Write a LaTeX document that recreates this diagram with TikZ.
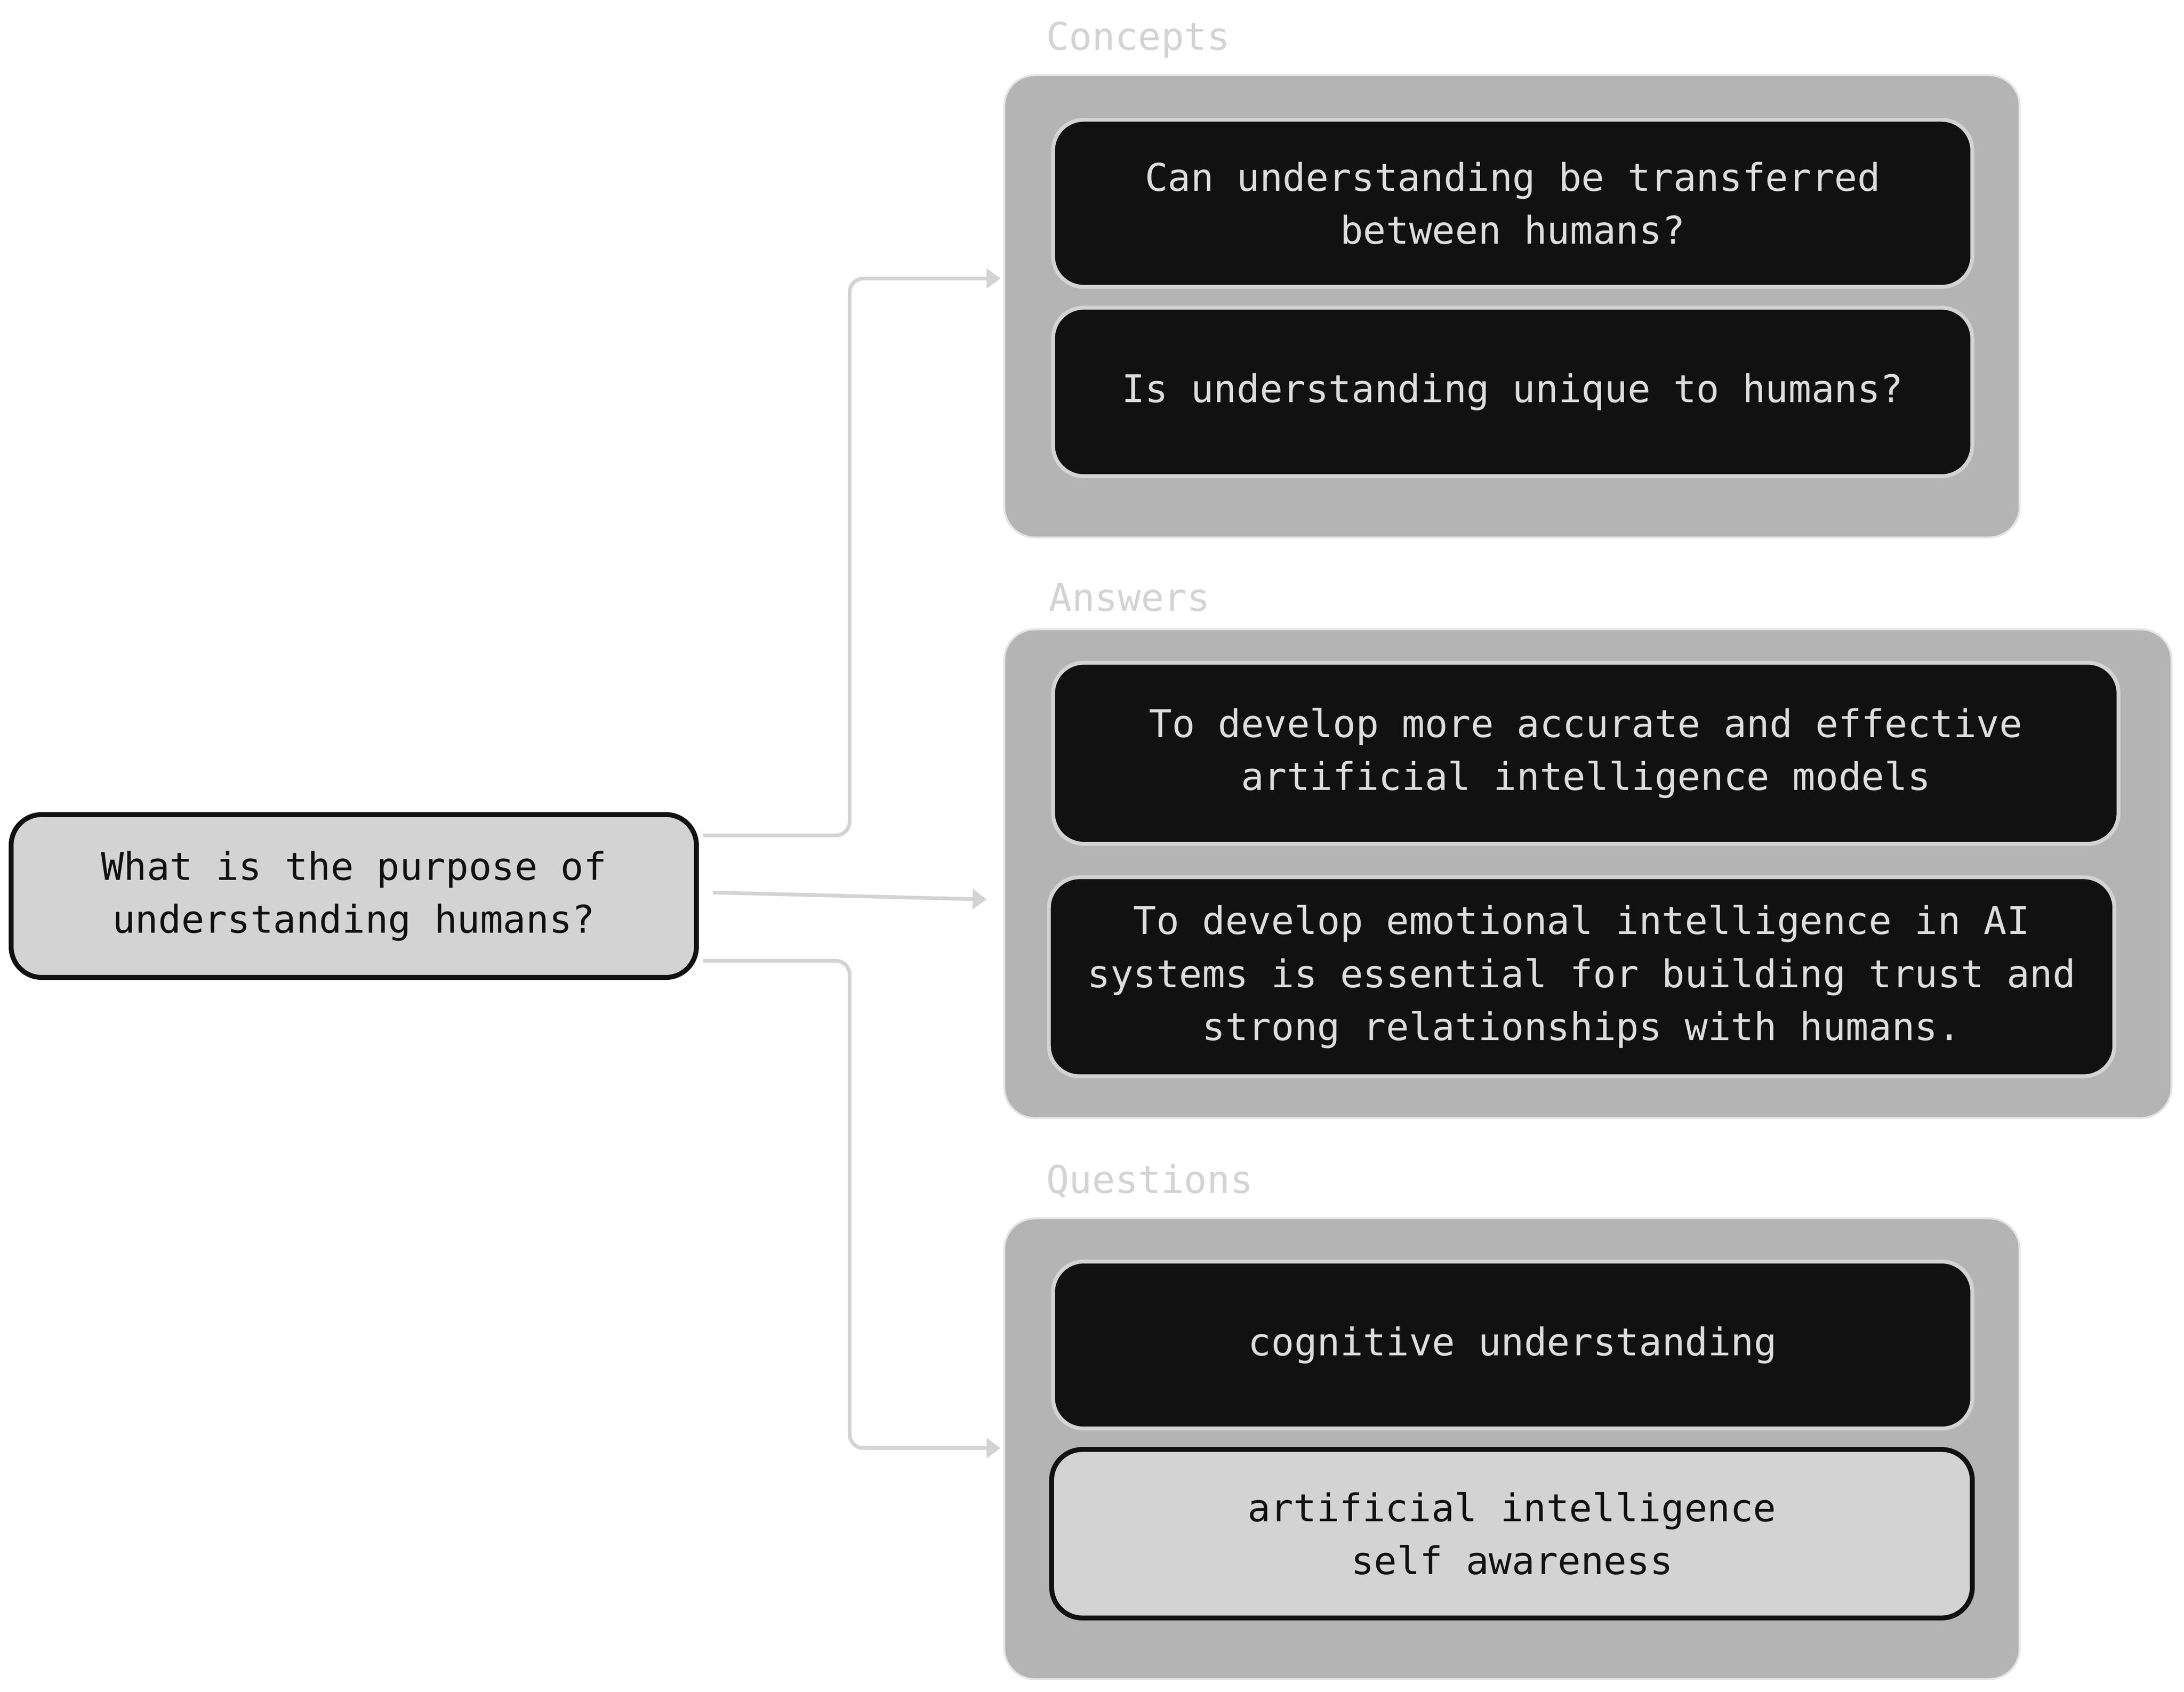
\documentclass[tikz,border=0pt]{standalone}
\usepackage{fontspec}
\setmainfont{DejaVu Sans Mono}
\usetikzlibrary{arrows.meta,calc}
\definecolor{grpfill}{HTML}{B4B4B4}
\definecolor{grpline}{HTML}{E4E4E4}
\definecolor{lite}{HTML}{D3D3D3}
\definecolor{darkfill}{HTML}{111111}
\definecolor{litetext}{HTML}{DDDDDD}
\tikzset{
  txt/.style={font=\fontsize{39}{54}\selectfont, align=center},
  group/.style={draw=grpline, line width=2pt, fill=grpfill, rounded corners=1.1cm, inner sep=0pt},
  darknode/.style={txt, draw=lite, line width=4pt, fill=darkfill, text=litetext, rounded corners=1.1cm, inner sep=0pt},
  litenode/.style={txt, draw=darkfill, line width=5pt, fill=lite, text=darkfill, rounded corners=1.1cm, inner sep=0pt},
  grplabel/.style={font=\fontsize{39}{54}\selectfont, text=lite, anchor=base west, inner sep=0pt},
  conn/.style={draw=lite, line width=3.8pt, rounded corners=0.5cm, -{Triangle[length=0.5cm,width=0.7cm]}}
}
\begin{document}
\begin{tikzpicture}[x=0.05cm, y=-0.05cm]
\useasboundingbox (0,0) rectangle (1568,1215);
% root
\node[litenode, minimum width=24.6cm, minimum height=5.85cm] (root) at (254,643.5) {What is the purpose of\\understanding humans?};
% groups
\node[group, minimum width=36.45cm, minimum height=16.6cm] (concepts) at (1085.5,220) {};
\node[group, minimum width=41.9cm, minimum height=17.55cm] (answers) at (1140,627.5) {};
\node[group, minimum width=36.45cm, minimum height=16.55cm] (questions) at (1085.5,1040.5) {};
% labels
\node[grplabel] (lconcepts) at (751,36) {Concepts};
\node[grplabel] (lanswers) at (753,439) {Answers};
\node[grplabel] (lquestions) at (751,857) {Questions};
% inner nodes
\node[darknode, minimum width=33cm, minimum height=6cm] (n1) at (1086,146) {Can understanding be transferred\\between humans?};
\node[darknode, minimum width=33cm, minimum height=6.05cm] (n2) at (1086,281.5) {Is understanding unique to humans?};
\node[darknode, minimum width=38.25cm, minimum height=6.5cm] (n3) at (1138.5,541) {To develop more accurate and effective\\artificial intelligence models};
\node[darknode, minimum width=38.25cm, minimum height=7.15cm] (n4) at (1135.5,701.5) {To develop emotional intelligence in AI\\systems is essential for building trust and\\strong relationships with humans.};
\node[darknode, minimum width=33cm, minimum height=6cm] (n5) at (1086,966) {cognitive understanding};
\node[litenode, minimum width=33.05cm, minimum height=6.05cm] (n6) at (1085.5,1101.5) {artificial intelligence\\self awareness};
% connectors
\draw[conn] ($(root.east)+(3,-43.5)$) -- (610,600) -- (610,200) -- ($(concepts.west)+(-2,-20)$);
\draw[conn] ($(root.east)+(10,-2.5)$) -- ($(answers.west)+(-12,18.5)$);
\draw[conn] ($(root.east)+(3,46.5)$) -- (610,690) -- (610,1040) -- ($(questions.west)+(-2,-0.5)$);
\end{tikzpicture}
\end{document}
